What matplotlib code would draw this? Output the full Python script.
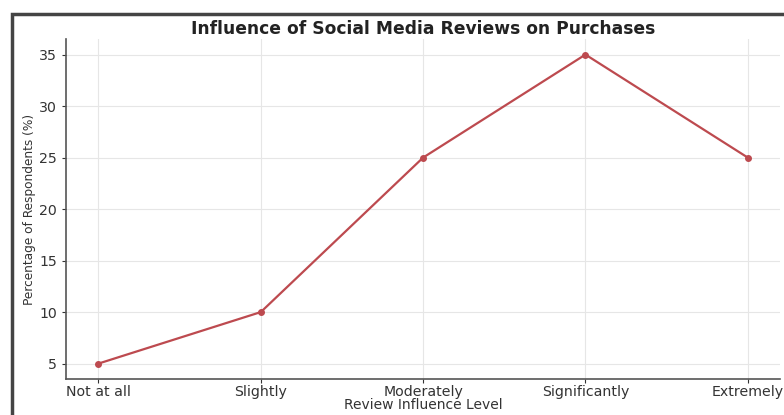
import matplotlib
matplotlib.use('Agg')
import matplotlib.pyplot as plt
from matplotlib.patches import Rectangle

levels = ['Not at all', 'Slightly', 'Moderately', 'Significantly', 'Extremely']
percentages = [5, 10, 25, 35, 25]
yticks = [5, 10, 15, 20, 25, 30, 35]

fig = plt.figure(figsize=(7.84, 4.15), dpi=100)
ax = fig.add_axes([0.0842, 0.0867, 0.911, 0.819])

ax.plot(levels, percentages, color='#bd4a4f', linewidth=1.6,
        marker='o', markersize=4)

ax.set_yticks(yticks)
ax.grid(True, color='#e6e6e6', linewidth=0.8)
ax.set_axisbelow(True)
for side in ['top', 'right']:
    ax.spines[side].set_visible(False)
for side in ['left', 'bottom']:
    ax.spines[side].set_color('#555555')
    ax.spines[side].set_linewidth(1.2)
ax.tick_params(labelsize=10.2, colors='#333333', length=3, width=0.8)
ax.tick_params(axis='x', pad=1.5)

ax.set_title('Influence of Social Media Reviews on Purchases',
             fontsize=12.3, fontweight='bold', color='#222222', pad=4)
ax.set_xlabel('Review Influence Level', fontsize=10, color='#333333', labelpad=-1)
ax.set_ylabel('Percentage of Respondents (%)', fontsize=9.7, color='#333333',
              fontstretch='condensed', labelpad=2)

# dark frame around the chart
fig.patches.append(Rectangle((12 / 784, -0.1), 1.1, (415 - 14) / 415 + 0.1,
                             transform=fig.transFigure, fill=False,
                             edgecolor='#444444', linewidth=2.5))

fig.savefig('out.png', dpi=100)
